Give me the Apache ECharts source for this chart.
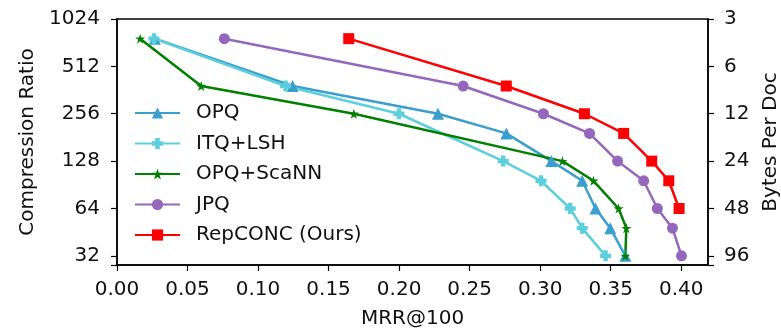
<!DOCTYPE html>
<html>
<head>
<meta charset="utf-8">
<script src="https://cdn.jsdelivr.net/npm/echarts@6/dist/echarts.min.js"></script>
<style>
  html, body { margin: 0; padding: 0; background: #fff; }
  #chart { width: 781px; height: 329px; }
</style>
</head>
<body>
<div id="chart"></div>
<script>
// MRR@100 and compression ratio per method
const opqMrr = [0.0268, 0.1245, 0.2276, 0.2760, 0.3080, 0.3298, 0.3393, 0.3497, 0.3604];
const opqRatio = [768, 384, 256, 192, 128, 96, 64, 48, 32];
const itqMrr = [0.0262, 0.1195, 0.1999, 0.2738, 0.3006, 0.3213, 0.3298, 0.3464];
const itqRatio = [768, 384, 256, 128, 96, 64, 48, 32];
const scannMrr = [0.0164, 0.0597, 0.1679, 0.3158, 0.3378, 0.3556, 0.3611, 0.3604];
const scannRatio = [768, 384, 256, 128, 96, 64, 48, 32];
const jpqMrr = [0.0761, 0.2454, 0.3023, 0.3350, 0.3549, 0.3734, 0.3831, 0.3938, 0.4002];
const jpqRatio = [768, 384, 256, 192, 128, 96, 64, 48, 32];
const repconcMrr = [0.1643, 0.2760, 0.3314, 0.3592, 0.3791, 0.3912, 0.3985];
const repconcRatio = [768, 384, 256, 192, 128, 96, 64];

const ratioTicks = [32, 64, 128, 256, 512, 1024];
const fullBytes = 3072; // bytes per doc = 3072 / ratio

const FONT = "DejaVu Sans";
const STAR = "path://M10,0L12.25,6.91L19.51,6.91L13.63,11.18L15.88,18.09L10,13.82L4.12,18.09L6.37,11.18L0.49,6.91L7.75,6.91Z";
const PLUS = "path://M3,0H7V3H10V7H7V10H3V7H0V3H3Z";

function pairs(xs, ys) {
  return xs.map((x, i) => [x, ys[i]]);
}

function makeSeries(name, xs, ys, color, symbol, size) {
  return {
    name: name,
    type: "line",
    data: pairs(xs, ys),
    symbol: symbol,
    symbolSize: size,
    showAllSymbol: true,
    lineStyle: { color: color, width: 2.5 },
    itemStyle: { color: color },
    emphasis: { disabled: true },
    animation: false
  };
}

function isTick(v) {
  return ratioTicks.some((t) => Math.abs(t - v) < 0.5);
}

const chart = echarts.init(document.getElementById("chart"));

const axisLine = { show: true, lineStyle: { color: "#000", width: 1.5 } };
const axisTick = { show: true, length: 6, lineStyle: { color: "#000", width: 1.2 } };

chart.setOption({
  animation: false,
  textStyle: { fontFamily: FONT },
  grid: {
    left: 117, right: 73, top: 19, bottom: 64,
    outerBoundsMode: "none",
    containLabel: false,
    show: true, borderColor: "#000", borderWidth: 1.5
  },
  legend: {
    orient: "vertical",
    left: 134,
    top: 103,
    padding: 0,
    itemWidth: 45,
    itemHeight: 14,
    itemGap: 10.5,
    textStyle: { fontFamily: FONT, fontSize: 20, color: "#111", lineHeight: 20, padding: [0, 0, 0, 11] },
    data: ["OPQ", "ITQ+LSH", "OPQ+ScaNN", "JPQ", "RepCONC (Ours)"]
  },
  xAxis: {
    type: "value",
    min: 0,
    max: 0.419,
    interval: 0.05,
    name: "MRR@100",
    nameLocation: "middle",
    nameGap: 44,
    nameTextStyle: { fontFamily: FONT, fontSize: 20, color: "#111" },
    axisLine: axisLine,
    axisTick: axisTick,
    splitLine: { show: false },
    axisLabel: {
      fontFamily: FONT, fontSize: 20, color: "#111", margin: 15,
      showMaxLabel: false,
      formatter: (v) => v.toFixed(2)
    }
  },
  yAxis: [
    {
      type: "log",
      logBase: 2,
      min: 28,
      max: 1024,
      position: "left",
      name: "Compression Ratio",
      nameLocation: "middle",
      nameGap: 79,
      nameTextStyle: { fontFamily: FONT, fontSize: 20, color: "#111" },
      axisLine: axisLine,
      axisTick: axisTick,
      splitLine: { show: false },
      axisLabel: {
        fontFamily: FONT, fontSize: 20, color: "#111", margin: 17,
        formatter: (v) => (isTick(v) ? String(Math.round(v)) : "")
      }
    },
    {
      type: "log",
      logBase: 2,
      min: 28,
      max: 1024,
      position: "right",
      name: "Bytes Per Doc",
      nameLocation: "middle",
      nameGap: 50,
      nameTextStyle: { fontFamily: FONT, fontSize: 20, color: "#111" },
      axisLine: axisLine,
      axisTick: axisTick,
      splitLine: { show: false },
      axisLabel: {
        fontFamily: FONT, fontSize: 20, color: "#111", margin: 16,
        formatter: (v) => (isTick(v) ? String(Math.round(fullBytes / v)) : "")
      }
    }
  ],
  series: [
    makeSeries("OPQ", opqMrr, opqRatio, "#3a9fcc", "triangle", 12),
    makeSeries("ITQ+LSH", itqMrr, itqRatio, "#5ccfdc", PLUS, 11),
    makeSeries("OPQ+ScaNN", scannMrr, scannRatio, "#008000", STAR, 10),
    makeSeries("JPQ", jpqMrr, jpqRatio, "#9467bd", "circle", 11),
    makeSeries("RepCONC (Ours)", repconcMrr, repconcRatio, "#ff0000", "rect", 11)
  ]
});
</script>
</body>
</html>
